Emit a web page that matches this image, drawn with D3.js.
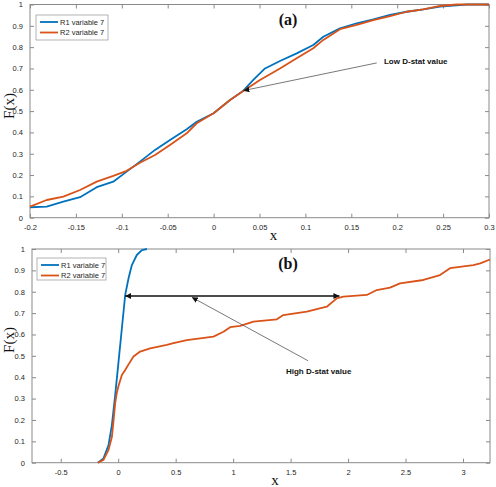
<!DOCTYPE html>
<html>
<head>
<meta charset="utf-8">
<script src="https://cdn.jsdelivr.net/npm/d3@7/dist/d3.min.js"></script>
<style>
  html, body { margin: 0; padding: 0; background: #fff; }
  svg { display: block; }
</style>
</head>
<body>
<svg id="chart" width="496" height="487"></svg>
<script>
// ---------- Data ----------
const seriesNames = ["R1 variable 7", "R2 variable 7"];
const seriesColors = ["#0072BD", "#D95319"];

// Panel (a)
const topR1X = [-0.2, -0.1818, -0.1637, -0.1455, -0.1273, -0.1093, -0.0947, -0.0802, -0.0638, -0.0475, -0.0293, -0.0184, 0.0, 0.0179, 0.0324, 0.043, 0.056, 0.0723, 0.0905, 0.1086, 0.1195, 0.1377, 0.1559, 0.174, 0.1922, 0.2103, 0.2284, 0.2466, 0.2648, 0.276, 0.3];
const topR1F = [0.049, 0.052, 0.075, 0.096, 0.143, 0.169, 0.216, 0.263, 0.318, 0.364, 0.415, 0.45, 0.49, 0.552, 0.596, 0.645, 0.70, 0.735, 0.771, 0.81, 0.849, 0.888, 0.912, 0.93, 0.951, 0.966, 0.977, 0.99, 0.996, 1.0, 1.0];
const topR2X = [-0.2, -0.1818, -0.1637, -0.1455, -0.1273, -0.1093, -0.0947, -0.0802, -0.0638, -0.0475, -0.0293, -0.0184, 0.0, 0.0179, 0.0324, 0.0505, 0.0723, 0.0905, 0.1086, 0.1195, 0.1377, 0.1559, 0.174, 0.1922, 0.2103, 0.2284, 0.2466, 0.2648, 0.276, 0.3];
const topR2F = [0.052, 0.083, 0.099, 0.13, 0.169, 0.196, 0.22, 0.258, 0.294, 0.341, 0.396, 0.443, 0.49, 0.552, 0.594, 0.646, 0.70, 0.748, 0.795, 0.834, 0.884, 0.904, 0.927, 0.946, 0.966, 0.977, 0.993, 1.0, 1.0, 1.0];
const topXTicks = [-0.2, -0.15, -0.1, -0.05, 0, 0.05, 0.1, 0.15, 0.2, 0.25, 0.3];
const topXLabels = ["-0.2", "-0.15", "-0.1", "-0.05", "0", "0.05", "0.1", "0.15", "0.2", "0.25", "0.3"];

// Panel (b)
const botR1X = [-0.177, -0.128, -0.084, -0.055, -0.026, 0.003, 0.032, 0.061, 0.09, 0.119, 0.162, 0.206, 0.25];
const botR1F = [0, 0.02, 0.083, 0.176, 0.317, 0.473, 0.629, 0.785, 0.863, 0.925, 0.972, 0.995, 1.0];
const botR2X = [-0.177, -0.128, -0.084, -0.055, -0.04, -0.026, -0.011, 0.003, 0.032, 0.061, 0.09, 0.133, 0.191, 0.278, 0.423, 0.481, 0.597, 0.713, 0.829, 0.916, 0.974, 1.061, 1.177, 1.38, 1.437, 1.641, 1.815, 1.902, 1.959, 2.163, 2.25, 2.365, 2.452, 2.655, 2.8, 2.887, 3.09, 3.15, 3.235];
const botR2F = [0, 0.013, 0.06, 0.12, 0.2, 0.28, 0.33, 0.36, 0.41, 0.434, 0.46, 0.497, 0.52, 0.535, 0.551, 0.559, 0.574, 0.582, 0.59, 0.613, 0.634, 0.64, 0.66, 0.671, 0.691, 0.707, 0.73, 0.769, 0.777, 0.785, 0.808, 0.819, 0.839, 0.855, 0.878, 0.91, 0.925, 0.933, 0.951];
const botXTicks = [-0.5, 0, 0.5, 1, 1.5, 2, 2.5, 3];
const botXLabels = ["-0.5", "0", "0.5", "1", "1.5", "2", "2.5", "3"];

const yTicks = [0, 0.1, 0.2, 0.3, 0.4, 0.5, 0.6, 0.7, 0.8, 0.9, 1];
const yLabels = ["0", "0.1", "0.2", "0.3", "0.4", "0.5", "0.6", "0.7", "0.8", "0.9", "1"];

const panelTitles = ["(a)", "(b)"];
const annotationTexts = ["Low D-stat value", "High D-stat value"];

// ---------- Drawing ----------
const svg = d3.select("#chart");
const defs = svg.append("defs");
function marker(id, color, orient) {
  defs.append("marker")
    .attr("id", id).attr("viewBox", "0 0 10 10")
    .attr("refX", 10).attr("refY", 5)
    .attr("markerWidth", 6).attr("markerHeight", 6)
    .attr("markerUnits", "userSpaceOnUse")
    .attr("orient", orient)
    .append("path").attr("d", "M0,0 L10,5 L0,10 z").attr("fill", color);
}
marker("arrGrey", "#111", "auto");
marker("arrBlack", "#111", "auto");
marker("arrBlackStart", "#111", "auto-start-reverse");

const axisColor = "#8a8a8a";
const textColor = "#262626";
const sansFont = "'Liberation Sans', Arial, Helvetica, sans-serif";
const serifFont = "'Liberation Serif', 'Times New Roman', serif";

function drawPanel(cfg) {
  const x = d3.scaleLinear().domain(cfg.xDomain).range([cfg.left, cfg.right]);
  const y = d3.scaleLinear().domain([0, 1]).range([cfg.bottom, cfg.top]);
  const g = svg.append("g");

  g.append("rect")
    .attr("x", cfg.left).attr("y", cfg.top)
    .attr("width", cfg.right - cfg.left).attr("height", cfg.bottom - cfg.top)
    .attr("fill", "none").attr("stroke", axisColor).attr("stroke-width", 1);

  const xAxisB = d3.axisBottom(x).tickValues(cfg.xTicks)
    .tickFormat((d, i) => cfg.xLabels[i]).tickSizeInner(-4).tickSizeOuter(0).tickPadding(7);
  const xAxisT = d3.axisTop(x).tickValues(cfg.xTicks).tickFormat("").tickSizeInner(-4).tickSizeOuter(0);
  const yAxisL = d3.axisLeft(y).tickValues(yTicks)
    .tickFormat((d, i) => yLabels[i]).tickSizeInner(-4).tickSizeOuter(0).tickPadding(7);
  const yAxisR = d3.axisRight(y).tickValues(yTicks).tickFormat("").tickSizeInner(-4).tickSizeOuter(0);

  const axes = [
    g.append("g").attr("transform", `translate(0,${cfg.bottom})`).call(xAxisB),
    g.append("g").attr("transform", `translate(0,${cfg.top})`).call(xAxisT),
    g.append("g").attr("transform", `translate(${cfg.left},0)`).call(yAxisL),
    g.append("g").attr("transform", `translate(${cfg.right},0)`).call(yAxisR)
  ];
  axes.forEach(a => {
    a.select(".domain").remove();
    a.selectAll(".tick line").attr("stroke", axisColor);
    a.selectAll(".tick text").attr("fill", textColor)
      .style("font-family", sansFont).style("font-size", "7.5px");
  });

  const line = d3.line().x(d => x(d[0])).y(d => y(d[1]));
  cfg.series.forEach((s, i) => {
    const pts = s.xs.map((v, k) => [v, s.fs[k]]);
    g.append("path").datum(pts)
      .attr("d", line)
      .attr("fill", "none")
      .attr("stroke", seriesColors[i])
      .attr("stroke-width", 1.8)
      .attr("stroke-linejoin", "round");
  });

  g.append("text")
    .attr("x", cfg.titleX).attr("y", cfg.top + 20)
    .attr("text-anchor", "middle")
    .style("font-family", serifFont).style("font-weight", "bold").style("font-size", "16px")
    .attr("fill", "#111")
    .text(cfg.title);

  g.append("text")
    .attr("x", (cfg.left + cfg.right) / 2 + 14).attr("y", cfg.xLabelY)
    .attr("text-anchor", "middle")
    .style("font-family", serifFont).style("font-size", "15px")
    .attr("fill", "#111")
    .text("x");
  g.append("text")
    .attr("transform", `translate(14,${cfg.yLabelCenter}) rotate(-90)`)
    .attr("text-anchor", "middle")
    .style("font-family", serifFont).style("font-size", "15px")
    .attr("fill", "#111")
    .text("F(x)");

  const lg = g.append("g");
  lg.append("rect")
    .attr("x", cfg.legend.x).attr("y", cfg.legend.y)
    .attr("width", cfg.legend.w).attr("height", cfg.legend.h)
    .attr("fill", "#fff").attr("stroke", "#a0a0a0").attr("stroke-width", 0.8);
  seriesNames.forEach((name, i) => {
    const ly = cfg.legend.y + 7 + i * 10.5;
    lg.append("line")
      .attr("x1", cfg.legend.x + 4).attr("x2", cfg.legend.x + 22)
      .attr("y1", ly).attr("y2", ly)
      .attr("stroke", seriesColors[i]).attr("stroke-width", 1.8);
    lg.append("text")
      .attr("x", cfg.legend.x + 24).attr("y", ly + 2.8)
      .style("font-family", sansFont).style("font-size", "7.5px")
      .attr("fill", textColor)
      .text(name);
  });

  return { g, x, y };
}

// Panel (a)
const pa = drawPanel({
  left: 30, right: 489, top: 4.5, bottom: 217.7,
  xDomain: [-0.2, 0.3], xTicks: topXTicks, xLabels: topXLabels,
  series: [{ xs: topR1X, fs: topR1F }, { xs: topR2X, fs: topR2F }],
  title: panelTitles[0], titleX: 288,
  xLabelY: 240, yLabelCenter: 106,
  legend: { x: 36, y: 15, w: 72, h: 25 }
});
pa.g.append("line")
  .attr("x1", pa.x(0.1777)).attr("y1", pa.y(0.726))
  .attr("x2", pa.x(0.0324)).attr("y2", pa.y(0.596))
  .attr("stroke", "#555").attr("stroke-width", 0.8)
  .attr("marker-end", "url(#arrGrey)");
pa.g.append("text")
  .attr("x", pa.x(0.1856)).attr("y", pa.y(0.735) + 3)
  .style("font-family", sansFont).style("font-size", "8px").style("font-weight", "bold")
  .attr("fill", "#111")
  .text(annotationTexts[0]);

// Panel (b)
const pb = drawPanel({
  left: 32, right: 490, top: 249, bottom: 462.7,
  xDomain: [-0.75, 3.235], xTicks: botXTicks, xLabels: botXLabels,
  series: [{ xs: botR1X, fs: botR1F }, { xs: botR2X, fs: botR2F }],
  title: panelTitles[1], titleX: 288,
  xLabelY: 485, yLabelCenter: 340,
  legend: { x: 37, y: 258, w: 69, h: 22 }
});
pb.g.append("line")
  .attr("x1", pb.x(0.061)).attr("y1", pb.y(0.78))
  .attr("x2", pb.x(1.925)).attr("y2", pb.y(0.78))
  .attr("stroke", "#111").attr("stroke-width", 1.3)
  .attr("marker-start", "url(#arrBlackStart)")
  .attr("marker-end", "url(#arrBlack)");
pb.g.append("line")
  .attr("x1", pb.x(1.652)).attr("y1", pb.y(0.477))
  .attr("x2", pb.x(0.641)).attr("y2", pb.y(0.774))
  .attr("stroke", "#555").attr("stroke-width", 0.8)
  .attr("marker-end", "url(#arrGrey)");
pb.g.append("text")
  .attr("x", pb.x(1.46)).attr("y", pb.y(0.43) + 3)
  .style("font-family", sansFont).style("font-size", "8px").style("font-weight", "bold")
  .attr("fill", "#111")
  .text(annotationTexts[1]);
</script>
</body>
</html>
